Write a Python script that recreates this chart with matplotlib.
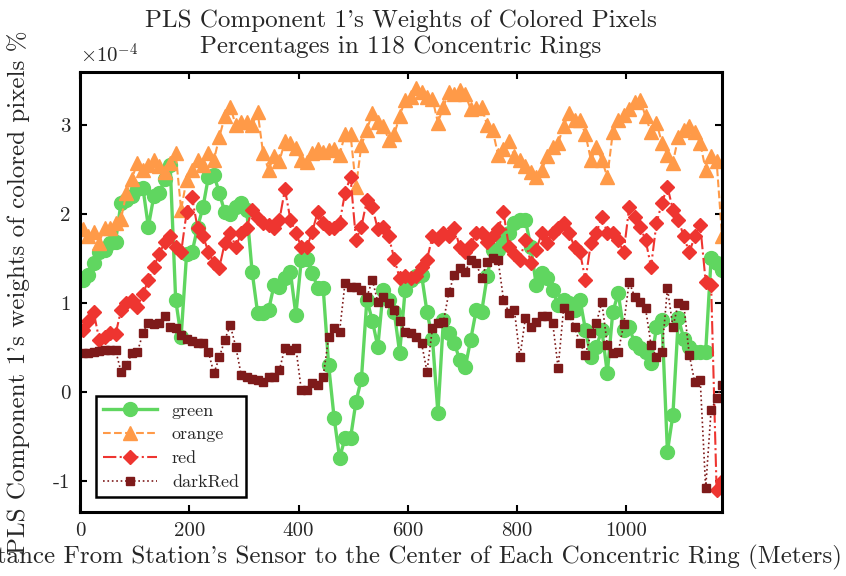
import numpy as np
import matplotlib
matplotlib.use('Agg')
import matplotlib.pyplot as plt
from matplotlib.ticker import FuncFormatter

plt.rcParams['font.family'] = 'cmr10'
plt.rcParams['mathtext.fontset'] = 'cm'
plt.rcParams['axes.unicode_minus'] = False

# ring centres, 10 m apart
distance = np.arange(118) * 10 + 5

green = [1.26, 1.32, 1.45, 1.57, 1.6, 1.68, 1.69, 2.13, 2.16, 2.2, 2.28, 2.3, 1.86, 2.2, 2.24, 2.4, 2.55, 1.04, 0.62, 1.55,
         1.57, 1.85, 2.08, 2.42, 2.44, 2.24, 2.02, 2.0, 2.08, 2.13, 2.05, 1.35, 0.89, 0.89, 0.92, 1.2, 1.18, 1.28, 1.35, 0.87,
         1.49, 1.5, 1.34, 1.17, 1.17, 0.3, -0.29, -0.74, -0.52, -0.52, -0.11, 0.15, 1.04, 0.8, 0.51, 1.15, 1.04, 0.9, 0.44, 1.15,
         1.26, 1.3, 1.32, 0.9, 0.6, -0.24, 0.81, 0.66, 0.55, 0.36, 0.28, 0.59, 0.92, 0.9, 1.3, 1.6, 1.6, 1.7, 1.79, 1.9,
         1.94, 1.94, 1.63, 1.2, 1.34, 1.28, 1.15, 0.98, 1.04, 1.0, 0.92, 1.04, 0.7, 0.39, 0.51, 0.7, 0.21, 0.9, 1.11, 0.7,
         0.73, 0.55, 0.5, 0.45, 0.33, 0.73, 0.81, -0.67, -0.26, 0.83, 0.6, 0.51, 0.45, 0.45, 0.45, 1.51, 1.45, 1.37]

orange = [1.83, 1.75, 1.8, 1.68, 1.85, 1.85, 1.9, 1.95, 2.24, 2.4, 2.58, 2.5, 2.55, 2.61, 2.54, 2.47, 2.58, 2.69, 2.05, 2.39,
          2.5, 2.61, 2.55, 2.69, 2.61, 2.87, 3.1, 3.21, 3.0, 3.04, 3.04, 3.0, 3.15, 2.69, 2.5, 2.65, 2.6, 2.82, 2.8, 2.75,
          2.61, 2.59, 2.69, 2.73, 2.7, 2.72, 2.73, 2.67, 2.9, 2.9, 2.31, 2.78, 2.95, 3.14, 3.04, 2.99, 2.84, 2.9, 3.1, 3.29,
          3.32, 3.42, 3.37, 3.32, 3.3, 3.03, 3.21, 3.37, 3.35, 3.4, 3.35, 3.18, 3.2, 3.21, 3.0, 2.95, 2.67, 2.73, 2.82, 2.65,
          2.61, 2.54, 2.47, 2.42, 2.5, 2.65, 2.76, 2.8, 2.99, 3.14, 3.06, 3.06, 2.9, 2.61, 2.76, 2.61, 2.42, 2.92, 3.06, 3.12,
          3.18, 3.26, 3.29, 3.1, 2.92, 3.03, 2.8, 2.67, 2.58, 2.87, 2.95, 2.99, 2.92, 2.8, 2.5, 2.65, 2.6, 1.75]

red = [0.7, 0.8, 0.9, 0.59, 0.62, 0.66, 0.65, 0.92, 1.0, 1.04, 0.96, 1.1, 1.26, 1.41, 1.55, 1.69, 1.75, 1.63, 1.57, 2.02,
       2.19, 1.85, 1.75, 1.58, 1.45, 1.4, 1.68, 1.79, 1.63, 1.79, 1.85, 2.05, 1.96, 1.9, 1.88, 1.85, 1.94, 2.28, 1.94, 1.79,
       1.63, 1.63, 1.8, 2.03, 1.9, 1.85, 1.85, 1.9, 2.24, 2.42, 1.71, 1.86, 2.16, 2.08, 1.83, 1.86, 1.75, 1.5, 1.28, 1.3,
       1.28, 1.3, 1.41, 1.49, 1.75, 1.72, 1.79, 1.75, 1.85, 1.63, 1.58, 1.65, 1.79, 1.79, 1.69, 1.75, 1.83, 2.02, 1.63, 1.55,
       1.49, 1.71, 1.45, 1.6, 1.79, 1.68, 1.79, 1.85, 1.9, 1.79, 1.63, 1.57, 1.26, 1.68, 1.79, 1.97, 1.79, 1.79, 1.71, 1.57,
       2.08, 1.97, 1.86, 1.71, 1.41, 1.9, 2.13, 2.31, 2.05, 1.94, 1.75, 1.57, 1.75, 1.88, 1.24, 1.2, -1.1, -1.0]

dark_red = [0.44, 0.44, 0.45, 0.46, 0.47, 0.47, 0.47, 0.23, 0.3, 0.44, 0.45, 0.66, 0.78, 0.76, 0.78, 0.85, 0.73, 0.72, 0.64, 0.6,
            0.57, 0.55, 0.55, 0.45, 0.21, 0.39, 0.59, 0.75, 0.51, 0.19, 0.17, 0.15, 0.13, 0.11, 0.17, 0.17, 0.25, 0.5, 0.47, 0.5,
            0.02, 0.02, 0.1, 0.08, 0.17, 0.62, 0.72, 0.68, 1.23, 1.18, 1.18, 1.15, 1.07, 1.26, 1.01, 1.07, 1.0, 0.92, 0.8, 0.68,
            0.66, 0.62, 0.55, 0.23, 0.72, 0.78, 0.79, 1.12, 1.32, 1.4, 1.35, 1.49, 1.45, 1.28, 1.46, 1.51, 1.49, 1.04, 0.89, 0.92,
            0.39, 0.83, 0.73, 0.79, 0.85, 0.85, 0.78, 0.27, 0.94, 0.87, 0.73, 0.55, 0.42, 0.66, 0.78, 1.01, 0.53, 0.44, 0.45, 0.76,
            1.24, 1.07, 1.01, 0.94, 0.53, 0.39, 0.45, 1.17, 0.73, 1.0, 0.98, 0.42, 0.11, 0.14, -1.08, -0.2, -0.07, 0.08]

scale = 1e-4
txt = '#262626'

fig = plt.figure(figsize=(8.46, 5.76), dpi=100)
ax = fig.add_axes([0.0946, 0.1111, 0.7589, 0.7639])

ax.plot(distance, np.array(green) * scale, '-o', color='#60D660', lw=2.4, ms=10, label='green')
ax.plot(distance, np.array(orange) * scale, '--^', color='#FF9A48', lw=1.5, ms=10, label='orange')
ax.plot(distance, np.array(red) * scale, '-.D', color='#EE3530', lw=1.5, ms=7.5, label='red')
ax.plot(distance, np.array(dark_red) * scale, ':s', color='#7E1A1A', lw=1.2, ms=5.5, label='darkRed')

ax.set_xlim(0, 1175)
ax.set_ylim(-1.35e-4, 3.6e-4)
ax.set_xticks([0, 200, 400, 600, 800, 1000])
ax.set_yticks(np.array([-1, 0, 1, 2, 3]) * scale)
ax.yaxis.set_major_formatter(FuncFormatter(lambda v, p: '%g' % round(v / scale, 6)))
ax.text(0.0, 1.012, r'$\times10^{-4}$', transform=ax.transAxes, fontsize=15, color=txt, va='bottom', ha='left')
ax.tick_params(direction='in', top=True, right=True, length=5, width=1.5, labelsize=15,
               labelcolor=txt, pad=7)
for sp in ax.spines.values():
    sp.set_linewidth(2.2)

ax.set_title("PLS Component 1's Weights of Colored Pixels\nPercentages in 118 Concentric Rings",
             fontsize=18, linespacing=1.15, pad=14, color=txt)
ax.set_xlabel("Distance From Station's Sensor to the Center of Each Concentric Ring (Meters)", fontsize=18, color=txt)
ax.set_ylabel("PLS Component 1's weights of colored pixels %", fontsize=18, color=txt)
ax.yaxis.set_label_coords(-0.078, 0.5)

leg = ax.legend(loc='lower left', bbox_to_anchor=(0.025, 0.034), borderaxespad=0, fancybox=False,
                edgecolor='black', framealpha=1, fontsize=13, handlelength=3, labelspacing=0.45)
leg.get_frame().set_linewidth(1.8)
for t in leg.get_texts():
    t.set_color(txt)

fig.savefig('out.png', dpi=100)
